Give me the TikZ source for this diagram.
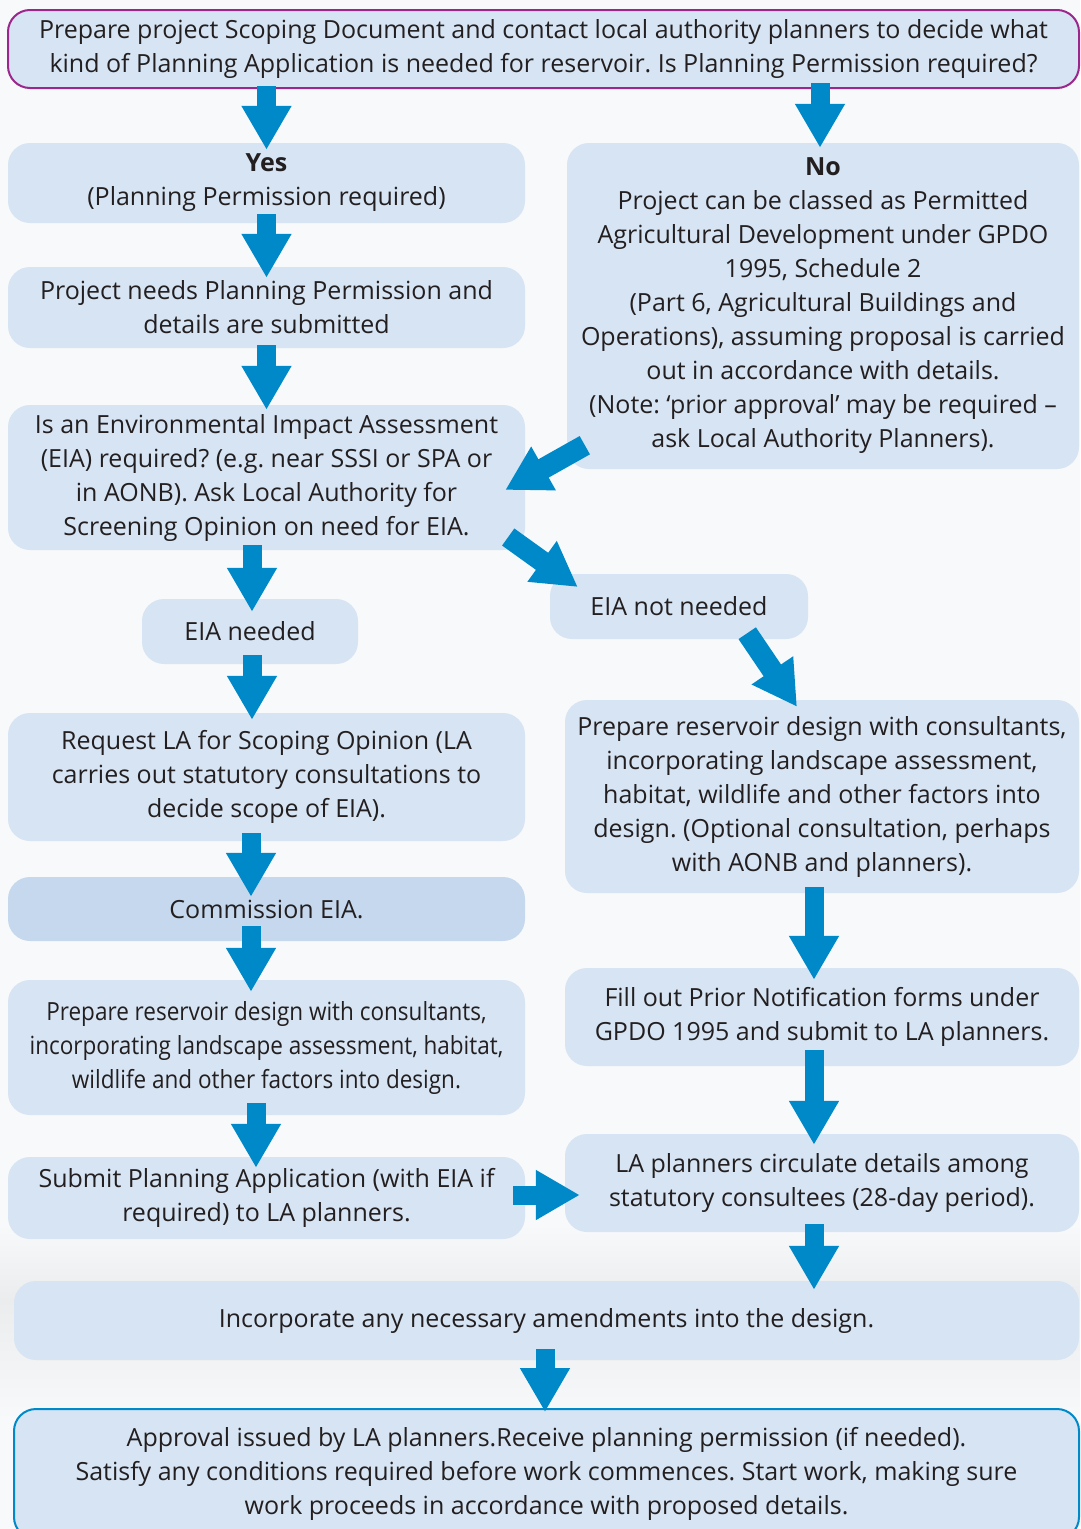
\documentclass[tikz,border=0pt]{standalone}
\usepackage{fontspec}
\setmainfont{Open Sans}
\newfontfamily\condfont[FakeStretch=0.9]{Open Sans}
\usetikzlibrary{arrows.meta,calc}
\definecolor{boxblue}{RGB}{214,228,243}
\definecolor{boxdark}{RGB}{197,216,238}
\definecolor{arrowblue}{RGB}{0,137,200}
\definecolor{topborder}{RGB}{156,39,140}
\definecolor{txt}{RGB}{35,31,32}
\definecolor{bg}{RGB}{248,249,251}
\definecolor{bggray}{RGB}{234,236,238}
\frenchspacing
\tikzset{
  stepbox/.style={fill=boxblue, rounded corners=22pt, inner sep=0pt, align=center,
    text=txt, font=\fontsize{25}{34}\selectfont},
  barrow/.style={draw=arrowblue, line width=19pt,
    -{Triangle[width=47pt,length=44pt]}},
}
\begin{document}
\begin{tikzpicture}[x=1pt,y=-1pt]
\useasboundingbox (0,0) rectangle (1080,1529);
\fill[bg] (0,0) rectangle (1080,1529);
\shade[top color=bg, bottom color=bggray] (0,1225) rectangle (1080,1300);
\shade[top color=bggray, bottom color=bg] (0,1300) rectangle (1080,1420);

% nodes
\node[stepbox, draw=topborder, line width=2pt, minimum width=1071pt, minimum height=78pt] (top) at (543.5,49)
  {Prepare project Scoping Document and contact local authority planners to decide what\\
   kind of Planning Application is needed for reservoir. Is Planning Permission required?};
\node[stepbox, minimum width=517pt, minimum height=80pt] (yes) at (266.5,183)
  {\textbf{Yes}\\(Planning Permission required)};
\node[stepbox, minimum width=517pt, minimum height=81pt] (proj) at (266.5,307.5)
  {Project needs Planning Permission and\\details are submitted};
\node[stepbox, minimum width=517pt, minimum height=145pt] (eiareq) at (266.5,477.5)
  {Is an Environmental Impact Assessment\\(EIA) required? (e.g. near SSSI or SPA or\\in AONB). Ask Local Authority for\\Screening Opinion on need for EIA.};
\node[stepbox, minimum width=216pt, minimum height=65pt] (eian) at (250,631.5)
  {EIA needed};
\node[stepbox, minimum width=517pt, minimum height=128pt] (req) at (266.5,777)
  {Request LA for Scoping Opinion (LA\\carries out statutory consultations to\\decide scope of EIA).};
\node[stepbox, fill=boxdark, minimum width=517pt, minimum height=64pt] (comm) at (266.5,909)
  {Commission EIA.};
\node[stepbox, minimum width=517pt, minimum height=135pt, font=\condfont\fontsize{25}{34}\selectfont] (prepL) at (266.5,1047.5)
  {Prepare reservoir design with consultants,\\incorporating landscape assessment, habitat,\\wildlife and other factors into design.};
\node[stepbox, minimum width=517pt, minimum height=82pt] (sub) at (266.5,1198)
  {Submit Planning Application (with EIA if\\required) to LA planners.};
\node[stepbox, minimum width=512pt, minimum height=326pt] (no) at (823,306)
  {\textbf{No}\\Project can be classed as Permitted\\Agricultural Development under GPDO\\1995, Schedule 2\\(Part 6, Agricultural Buildings and\\Operations), assuming proposal is carried\\out in accordance with details.\\(Note: `prior approval' may be required --\\ask Local Authority Planners).};
\node[stepbox, minimum width=258pt, minimum height=65pt] (eianot) at (679,606.5)
  {EIA not needed};
\node[stepbox, minimum width=514pt, minimum height=193pt] (prepR) at (822,796.5)
  {Prepare reservoir design with consultants,\\incorporating landscape assessment,\\habitat, wildlife and other factors into\\design. (Optional consultation, perhaps\\with AONB and planners).};
\node[stepbox, minimum width=514pt, minimum height=98pt] (fill) at (822,1017)
  {Fill out Prior Notification forms under\\GPDO 1995 and submit to LA planners.};
\node[stepbox, minimum width=514pt, minimum height=98pt] (la) at (822,1183)
  {LA planners circulate details among\\statutory consultees (28-day period).};
\node[stepbox, minimum width=1065pt, minimum height=79pt] (inc) at (546.5,1320.5)
  {Incorporate any necessary amendments into the design.};
\node[stepbox, draw=arrowblue, line width=2pt, minimum width=1065pt, minimum height=130pt] (appr) at (546.5,1474)
  {Approval issued by LA planners.Receive planning permission (if needed).\\Satisfy any conditions required before work commences. Start work, making sure\\work proceeds in accordance with proposed details.};

% arrows
\draw[barrow] ($(yes.north |- top.south)+(0,-3)$) -- ($(yes.north)+(0,7)$);
\draw[barrow] ($(no.north |- top.south)+(-3,-6)$) -- ($(no.north)+(-3,5)$);
\draw[barrow] ($(yes.south)+(0,-9)$) -- ($(proj.north)+(0,11)$);
\draw[barrow] ($(proj.south)+(0,-3)$) -- ($(eiareq.north)+(0,5)$);
\draw[barrow, line width=21pt] ($(no.south west)+(18,-24)$) -- ($(eiareq.east)+(-20,12.5)$);
\draw[barrow, line width=21pt] ($(eiareq.east)+(-17,59.5)$) -- ($(eianot.west)+(28,-19.5)$);
\draw[barrow] ($(eian.north |- eiareq.south)+(2,-5)$) -- ($(eian.north)+(2,13)$);
\draw[barrow] ($(eian.south)+(2,-9)$) -- ($(req.north -| eian.south)+(2,7)$);
\draw[barrow, line width=21pt] ($(eianot.south east)+(-61,-6)$) -- ($(prepR.north)+(-25,7)$);
\draw[barrow] ($(req.south)+(-15.5,-8)$) -- ($(comm.north)+(-15.5,20)$);
\draw[barrow] ($(comm.south)+(-15.5,-15)$) -- ($(prepL.north)+(-15.5,12)$);
\draw[barrow] ($(prepR.south)+(-8,-6)$) -- ($(fill.north)+(-8,12)$);
\draw[barrow] ($(prepL.south)+(-10.5,-12)$) -- ($(sub.north)+(-10.5,11)$);
\draw[barrow] ($(fill.south)+(-8,-16)$) -- ($(la.north)+(-8,11)$);
\draw[barrow] ($(sub.east)+(-12,-3)$) -- ($(la.west)+(15,12)$);
\draw[barrow] ($(la.south)+(-8,-8)$) -- ($(inc.north -| la.south)+(-8,9)$);
\draw[barrow] ($(inc.south)+(-1.5,-11)$) -- ($(appr.north)+(-1.5,4)$);
\end{tikzpicture}
\end{document}
